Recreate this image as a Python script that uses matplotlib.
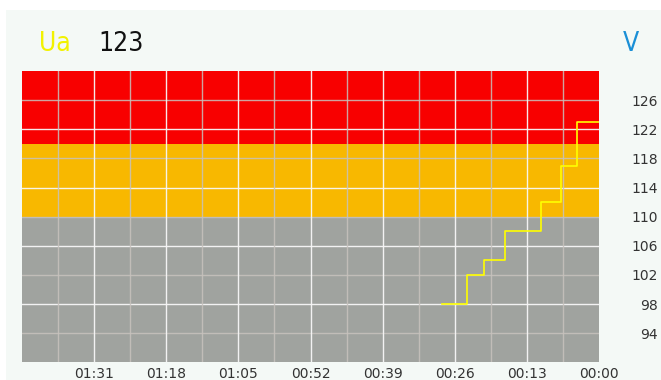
import matplotlib
matplotlib.use("Agg")
import matplotlib.pyplot as plt
from matplotlib.patches import Rectangle

# Voltage phase A history (seconds relative to now)
t_sec = [-28.3, -23.8, -20.7, -16.9, -10.5, -6.8, -4.0, 0.0]
ua_volts = [98, 102, 104, 108, 112, 117, 123, 123]

current_value = "123"
channel_name = "Ua"
unit_label = "V"

x_tick_pos = [-91, -78, -65, -52, -39, -26, -13, 0]
x_tick_labels = ["01:31", "01:18", "01:05", "00:52", "00:39", "00:26", "00:13", "00:00"]
x_minor_pos = [-97.5, -84.5, -71.5, -58.5, -45.5, -32.5, -19.5, -6.5]

y_ticks = [94, 98, 102, 106, 110, 114, 118, 122, 126]
y_major_grid = [98, 106, 114, 122]
y_minor_grid = [94, 102, 110, 118, 126]

# Alarm bands: (low, high, colour)
bands = [(90, 110, "#a0a39f"), (110, 120, "#f8b800"), (120, 130, "#f80000")]

W, H = 661, 380
fig = plt.figure(figsize=(W / 100, H / 100), dpi=100)
fig.patch.set_facecolor("white")
panel = Rectangle((6 / W, 0), 1 - 6 / W, (H - 10) / H,
                  transform=fig.transFigure, facecolor="#f4f9f6",
                  edgecolor="none", zorder=-5)
fig.add_artist(panel)

left, right, top, bottom = 22, 599, 71, 362.3
ax = fig.add_axes([left / W, 1 - bottom / H, (right - left) / W, (bottom - top) / H])
ax.set_zorder(2)
ax.set_xlim(-104, 0)
ax.set_ylim(90, 130)
ax.set_facecolor("none")
for s in ax.spines.values():
    s.set_visible(False)

for lo, hi, c in bands:
    ax.axhspan(lo, hi, color=c, zorder=1, lw=0)

minor_c = (0.78, 0.76, 0.74, 0.85)
major_c = (0.97, 0.97, 0.97, 0.95)
for y in y_minor_grid:
    ax.axhline(y, color=minor_c, lw=1.0, zorder=2)
for y in y_major_grid:
    ax.axhline(y, color=major_c, lw=1.0, zorder=2)
for x in x_minor_pos:
    ax.axvline(x, color=minor_c, lw=1.0, zorder=2)
for x in x_tick_pos[:-1]:
    ax.axvline(x, color=major_c, lw=1.0, zorder=2)

ax.plot(t_sec, ua_volts, drawstyle="steps-post", color="#ffff00", lw=1.2, zorder=3)

ax.set_xticks(x_tick_pos)
ax.set_xticklabels(x_tick_labels)
ax.set_yticks(y_ticks)
ax.set_yticklabels([str(v) for v in y_ticks])
ax.yaxis.tick_right()
ax.tick_params(axis="both", length=0, labelsize=10, colors="#333333")
ax.tick_params(axis="y", pad=42.5)
for lab in ax.get_yticklabels():
    lab.set_horizontalalignment("right")
ax.tick_params(axis="x", pad=3.5)

hdr = dict(fontsize=19, family="DejaVu Sans", fontstretch="condensed",
           ha="left", va="baseline")
fig.text(39 / W, 1 - 51 / H, channel_name, color="#f2f200", **hdr)
fig.text(98 / W, 1 - 51 / H, current_value, color="#111111", **hdr)
fig.text(623 / W, 1 - 51 / H, unit_label, color="#1a8fd6", **hdr)

fig.savefig("out.png", dpi=100)
